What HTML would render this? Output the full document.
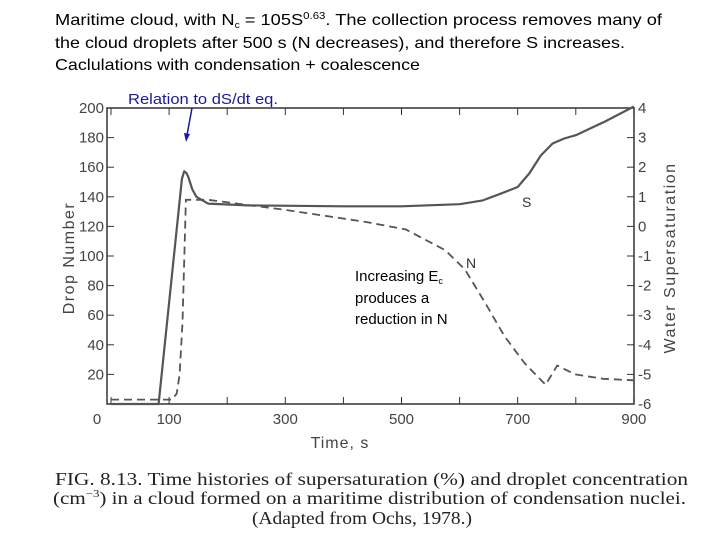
<!DOCTYPE html>
<html><head><meta charset="utf-8"><style>
html,body{margin:0;padding:0;background:#fff;}
svg{display:block;}
</style></head><body>
<svg width="720" height="540" viewBox="0 0 720 540" xmlns="http://www.w3.org/2000/svg">
<rect x="0" y="0" width="720" height="540" fill="#fff"/>
<g font-family="Liberation Sans, Arial, sans-serif" font-size="16" fill="#000">
<text x="55" y="25" textLength="607" lengthAdjust="spacingAndGlyphs">Maritime cloud, with N<tspan font-size="9" dy="3">c</tspan><tspan dy="-3"> = 105S</tspan><tspan font-size="10" dy="-6">0.63</tspan><tspan dy="6">.  The collection process removes many of</tspan></text>
<text x="55" y="48" textLength="570" lengthAdjust="spacingAndGlyphs">the cloud droplets after 500 s (N decreases), and therefore S increases.</text>
<text x="55" y="70" textLength="365" lengthAdjust="spacingAndGlyphs">Caclulations with condensation + coalescence</text>
</g>
<g id="chart"></g>
<text x="128" y="104" font-family="Liberation Sans, Arial, sans-serif" font-size="15" fill="#1a1a9a" textLength="150" lengthAdjust="spacingAndGlyphs">Relation to dS/dt eq.</text>
<line x1="192" y1="108" x2="187" y2="135" stroke="#1a1a9a" stroke-width="1.5"/>
<polygon points="184,133 190,134 186,142" fill="#1a1a9a"/>
<g font-family="Liberation Sans, Arial, sans-serif" font-size="15" fill="#000">
<text x="355" y="281">Increasing E<tspan font-size="9" dy="3">c</tspan></text>
<text x="355" y="303">produces a</text>
<text x="355" y="324">reduction in N</text>
</g>
<g font-family="Liberation Serif, Times New Roman, serif" font-size="18" fill="#222">
<text x="55" y="485" textLength="633" lengthAdjust="spacingAndGlyphs">FIG. 8.13. Time histories of supersaturation (%) and droplet concentration</text>
<text x="53" y="504" textLength="633" lengthAdjust="spacingAndGlyphs">(cm<tspan font-size="11" dy="-7">−3</tspan><tspan dy="7">) in a cloud formed on a maritime distribution of condensation nuclei.</tspan></text>
<text x="252" y="524" textLength="220" lengthAdjust="spacingAndGlyphs">(Adapted from Ochs, 1978.)</text>
</g>
<script>
var timeTicks=[0,100,200,300,400,500,600,700,800,900];
var timeLabels=[0,100,300,500,700,900];
var nTicks=[20,40,60,80,100,120,140,160,180,200];
var sTicks=[4,3,2,1,0,-1,-2,-3,-4,-5,-6];
var sTime=[0,82,122,126,130,133,140,147,167,235,400,500,600,640,670,700,720,740,760,780,800,850,900];
var sValue=[-6,-6,1.6,1.86,1.8,1.67,1.25,1.0,0.77,0.71,0.68,0.68,0.75,0.88,1.1,1.33,1.79,2.4,2.8,2.97,3.08,3.54,4.05];
var nTime=[0,105,113,118,123,129,167,303,439,507,575,609,643,677,711,748,768,799,847,900];
var nValue=[3,3,7,20,55,138,138,131,123,118,104,91,69,46,28,13,26,20,17,16];
var NS='http://www.w3.org/2000/svg';
var L=107,R=634,T=108,B=404;
function xS(t){return 111+t*0.581;}
function yN(n){return B-(n/200)*(B-T);}
function yS(s){return T+(4-s)/10*(B-T);}
var g=document.getElementById('chart');
function mk(tag,a){var e=document.createElementNS(NS,tag);for(var k in a)e.setAttribute(k,a[k]);g.appendChild(e);return e;}
var fr=mk('rect',{x:L,y:T,width:R-L,height:B-T,fill:'none',stroke:'#333','stroke-width':1.5});


timeTicks.forEach(function(t){var e=mk('line',{x1:xS(t),x2:xS(t),y1:T,y2:T+7,stroke:'#333'});


var e2=mk('line',{x1:xS(t),x2:xS(t),y1:B,y2:B-7,stroke:'#333'});

});
timeLabels.forEach(function(t){var e=mk('text',{x:t===0?97:xS(t),y:424,'text-anchor':'middle','font-family':'Liberation Sans, Arial, sans-serif','font-size':15,fill:'#444'});e.textContent=t;

});
nTicks.forEach(function(n){var e=mk('line',{x1:L,x2:L+7,y1:yN(n),y2:yN(n),stroke:'#333'});


var t=mk('text',{x:L-3,y:yN(n)+5,'text-anchor':'end','font-family':'Liberation Sans, Arial, sans-serif','font-size':15,fill:'#444'});t.textContent=n;

});
sTicks.forEach(function(s){var e=mk('line',{x1:R-7,x2:R,y1:yS(s),y2:yS(s),stroke:'#333'});


var t=mk('text',{x:R+4,y:yS(s)+5,'font-family':'Liberation Sans, Arial, sans-serif','font-size':15,fill:'#444'});t.textContent=s;

});
var sp=sTime.map(function(t,i){return xS(t).toFixed(1)+','+yS(sValue[i]).toFixed(1);}).join(' ');
var sl=mk('polyline',{points:sp,fill:'none',stroke:'#555','stroke-width':2.2,'stroke-linejoin':'round'});


var np=nTime.map(function(t,i){return xS(t).toFixed(1)+','+yN(nValue[i]).toFixed(1);}).join(' ');
var nl=mk('polyline',{points:np,fill:'none',stroke:'#555','stroke-width':1.8,'stroke-dasharray':'8,5'});


var lab=[['S',522,207,'s-label'],['N',466,268,'n-label']];
lab.forEach(function(a){var e=mk('text',{x:a[1],y:a[2],'font-family':'Liberation Sans, Arial, sans-serif','font-size':14,fill:'#333'});e.textContent=a[0];

});
var xt=mk('text',{x:340,y:448,'text-anchor':'middle','font-family':'Liberation Sans, Arial, sans-serif','font-size':16,fill:'#444','letter-spacing':'1'});xt.textContent='Time, s';


var yl=mk('text',{x:0,y:0,transform:'translate(74,258) rotate(-90)','text-anchor':'middle','font-family':'Liberation Sans, Arial, sans-serif','font-size':16,fill:'#444','letter-spacing':'1.5'});yl.textContent='Drop  Number';


var yr=mk('text',{x:0,y:0,transform:'translate(675,258) rotate(-90)','text-anchor':'middle','font-family':'Liberation Sans, Arial, sans-serif','font-size':16,fill:'#444','letter-spacing':'1.5'});yr.textContent='Water  Supersaturation';


</script>
</svg>
</body></html>
